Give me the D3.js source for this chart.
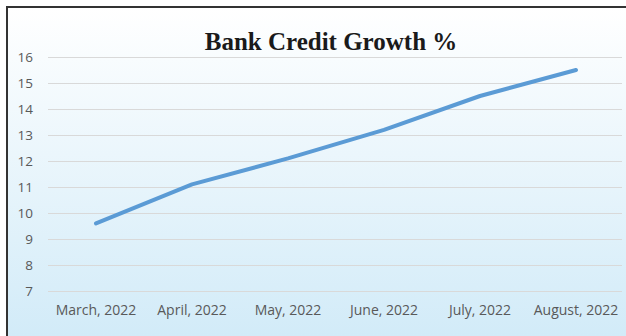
<!DOCTYPE html>
<html><head><meta charset="utf-8">
<script src="https://cdn.jsdelivr.net/npm/d3@7"></script>
<style>html,body{margin:0;padding:0;background:#fff;}svg{display:block;}</style>
</head><body>
<script>
const categories = ["March, 2022","April, 2022","May, 2022","June, 2022","July, 2022","August, 2022"];
const values = [9.6, 11.1, 12.1, 13.2, 14.5, 15.5];
const yTicks = [7,8,9,10,11,12,13,14,15,16];
const title = "Bank Credit Growth %";

const W = 626, H = 336;
const svg = d3.select("body").append("svg").attr("width", W).attr("height", H);
const defs = svg.append("defs");
const grad = defs.append("linearGradient").attr("id","bg").attr("x1",0).attr("y1",0).attr("x2",0).attr("y2",1);
grad.append("stop").attr("offset","0%").attr("stop-color","#ffffff");
grad.append("stop").attr("offset","100%").attr("stop-color","#d2ebf8");
svg.append("rect").attr("x",7).attr("y",8).attr("width",W-7).attr("height",H-8).attr("fill","url(#bg)");
// frame
svg.append("line").attr("x1",6).attr("x2",W).attr("y1",7).attr("y2",7).attr("stroke","#333").attr("stroke-width",2);
svg.append("line").attr("x1",7).attr("x2",7).attr("y1",6).attr("y2",H).attr("stroke","#333").attr("stroke-width",2);

const x = d3.scaleBand().domain(categories).range([48, 624]);
const y = d3.scaleLinear().domain([7, 16]).range([291, 57]);

svg.append("g").selectAll("line").data(yTicks).join("line")
  .attr("x1",48).attr("x2",622).attr("y1",d=>y(d)+0.5).attr("y2",d=>y(d)+0.5)
  .attr("stroke","#d9d9d9").attr("stroke-width",1);

const yAxis = svg.append("g").attr("transform","translate(33,0)")
  .call(d3.axisLeft(y).tickValues(yTicks).tickSize(0).tickPadding(0).tickFormat(d3.format("d")));
yAxis.select(".domain").remove();
yAxis.selectAll("text").attr("font-family","'Open Sans', sans-serif").attr("font-size","13.5px").attr("fill","#595959").attr("dy","0.35em");

const xAxis = svg.append("g").attr("transform","translate(0,291)")
  .call(d3.axisBottom(x).tickSize(0).tickPadding(14));
xAxis.select(".domain").remove();
xAxis.selectAll("text").attr("font-family","'Open Sans', sans-serif").attr("font-size","14px").attr("fill","#595959");

const line = d3.line().x((d,i)=>x(categories[i]) + x.bandwidth()/2).y(d=>y(d));
svg.append("path").datum(values).attr("d", line).attr("fill","none")
  .attr("stroke","#5b9bd5").attr("stroke-width",4).attr("stroke-linecap","round").attr("stroke-linejoin","round");

svg.append("text").attr("x",331).attr("y",50).attr("text-anchor","middle")
  .attr("font-family","'Liberation Serif', serif").attr("font-weight","bold").attr("font-size","25px").attr("fill","#1a1a1a")
  .text(title);
</script>
</body></html>
